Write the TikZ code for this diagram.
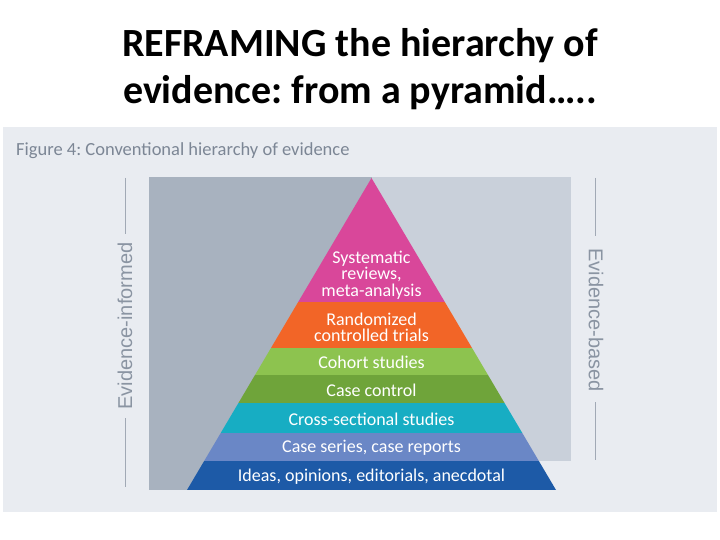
\documentclass[tikz,border=0pt]{standalone}
\usepackage{fontspec}
\setmainfont{Carlito}
\newfontfamily\labelfont{Liberation Sans}
\frenchspacing
\definecolor{panelbg}{HTML}{E9ECF1}
\definecolor{darkside}{HTML}{A8B2BF}
\definecolor{lightside}{HTML}{C9D0DA}
\definecolor{sidetext}{HTML}{8A94A2}
\definecolor{captiontext}{HTML}{7C8695}
\definecolor{bandpink}{HTML}{D9479A}
\definecolor{bandorange}{HTML}{F26527}
\definecolor{bandlime}{HTML}{8DC34F}
\definecolor{bandgreen}{HTML}{6FA43A}
\definecolor{bandteal}{HTML}{17ADC3}
\definecolor{bandlilac}{HTML}{6A87C6}
\definecolor{bandblue}{HTML}{1D5AA7}

\begin{document}
\begin{tikzpicture}[x=1pt,y=-1pt,
  titletext/.style={anchor=base,font=\fontsize{40}{47}\selectfont\bfseries,inner sep=0pt},
  bandtext/.style={text=white,font=\fontsize{18}{16.5}\selectfont,align=center,inner sep=0pt},
  sidelabel/.style={text=sidetext,font=\labelfont\fontsize{20}{20}\selectfont,inner sep=0pt},
  sideline/.style={draw=sidetext!80,line width=0.8pt}]
\useasboundingbox (0,0) rectangle (720,540);

\node[titletext] (title1) at (360,57) {REFRAMING the hierarchy of};
\node[titletext] (title2) at (360,104) {evidence: from a pyramid…..};

\fill[panelbg] (3,127) rectangle (717,512);
\node[anchor=base west,text=captiontext,font=\fontsize{18.5}{18.5}\selectfont,inner sep=0pt] (caption) at (16,156)
  {Figure 4: Conventional hierarchy of evidence};

\fill[darkside] (149,177) rectangle (371.5,490);
\fill[lightside] (371.5,177) rectangle (571,461);

\begin{scope}
\clip (371.5,178) -- (556,490) -- (187,490) -- cycle;
\foreach \top/\bot/\col in {170/302/bandpink,302/348/bandorange,348/375/bandlime,375/403/bandgreen,
  403/433/bandteal,433/461/bandlilac,461/490/bandblue}
  \fill[\col] (150,\top) rectangle (600,\bot);
\end{scope}

\node[bandtext] (sysrev) at (371.5,275) {Systematic\\reviews,\\meta-analysis};
\node[bandtext] (rct) at (371.5,327.5) {Randomized\\controlled trials};
\node[bandtext] (cohort) at (371.5,362) {Cohort studies};
\node[bandtext] (casectrl) at (371.5,390) {Case control};
\node[bandtext] (cross) at (371.5,419) {Cross-sectional studies};
\node[bandtext] (series) at (371.5,448) {Case series, case reports};
\node[bandtext] (ideas) at (371.5,476.5) {Ideas, opinions, editorials, anecdotal};

\node[sidelabel,rotate=90] (informed) at (125,326) {Evidence-informed};
\node[sidelabel,rotate=-90] (based) at (596,320) {Evidence-based};
\coordinate (informedtop) at (125,178);
\coordinate (informedgapa) at (125,234);
\coordinate (informedgapb) at (125,418);
\coordinate (informedbot) at (125,487);
\coordinate (basedtop) at (595,178);
\coordinate (basedgapa) at (595,236);
\coordinate (basedgapb) at (595,402);
\coordinate (basedbot) at (595,460);
\draw[sideline] (informedtop) -- (informedgapa);
\draw[sideline] (informedgapb) -- (informedbot);
\draw[sideline] (basedtop) -- (basedgapa);
\draw[sideline] (basedgapb) -- (basedbot);
\end{tikzpicture}
\end{document}
